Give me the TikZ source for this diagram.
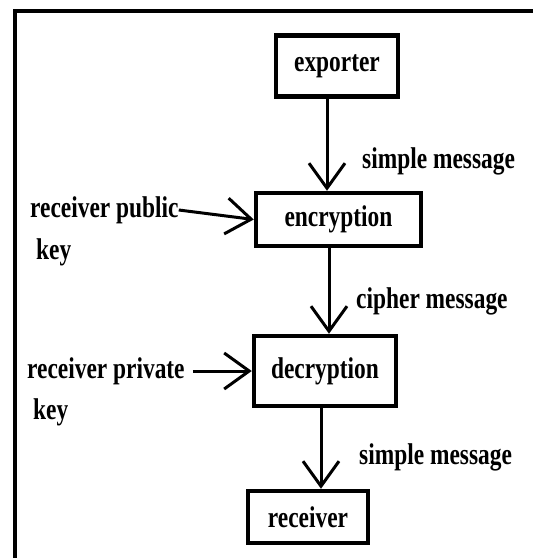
\documentclass[tikz,border=0pt]{standalone}
\usepackage{fontspec}
\setmainfont{Liberation Serif}[FakeStretch=0.78]
\usetikzlibrary{arrows.meta}
\begin{document}
\begin{tikzpicture}[x=1pt,y=-1pt,
  box/.style={draw, line width=4.5pt, inner sep=0pt, font=\fontsize{30}{32}\selectfont\bfseries},
  lbl/.style={inner sep=0pt, anchor=west, font=\fontsize{30}{32}\selectfont\bfseries},
  flow/.style={line width=3pt, -{Straight Barb[length=25pt,width=36pt,line width=3pt]}}]
\useasboundingbox (0,0) rectangle (533,558);
\draw [line width=3.5pt] (15,11) rectangle (560,580);

\node[box, minimum width=122, minimum height=61] (cExp) at (337,66) {exporter};
\node[box, minimum width=165, minimum height=53] (cEnc) at (338.5,219.5) {encryption};
\node[box, minimum width=142, minimum height=70] (cDec) at (325,371) {decryption};
\node[box, minimum width=120, minimum height=52] (cRec) at (308,517) {receiver};

\node[lbl] (cMsgA) at (362,161) {simple message};
\node[lbl] (cMsgB) at (356,301) {cipher message};
\node[lbl] (cMsgC) at (359,457) {simple message};
\node[lbl] (cPubTxt) at (30,210) {receiver public};
\node[lbl] (cPubKey) at (36,252) {key};
\node[lbl] (cPrivTxt) at (27,371) {receiver private};
\node[lbl] (cPrivKey) at (33,412) {key};

\coordinate (cXA) at (327,0);
\coordinate (cXB) at (329,0);
\coordinate (cXC) at (321,0);
\draw [flow] (cExp.south -| cXA) -- (cEnc.north -| cXA);
\draw [flow] (cEnc.south -| cXB) -- (cDec.north -| cXB);
\draw [flow] (cDec.south -| cXC) -- (cRec.north -| cXC);
\draw [flow] (cPubTxt.east) -- (cEnc.west);
\draw [flow] ([xshift=8pt]cPrivTxt.east) -- (cDec.west);
\end{tikzpicture}
\end{document}
